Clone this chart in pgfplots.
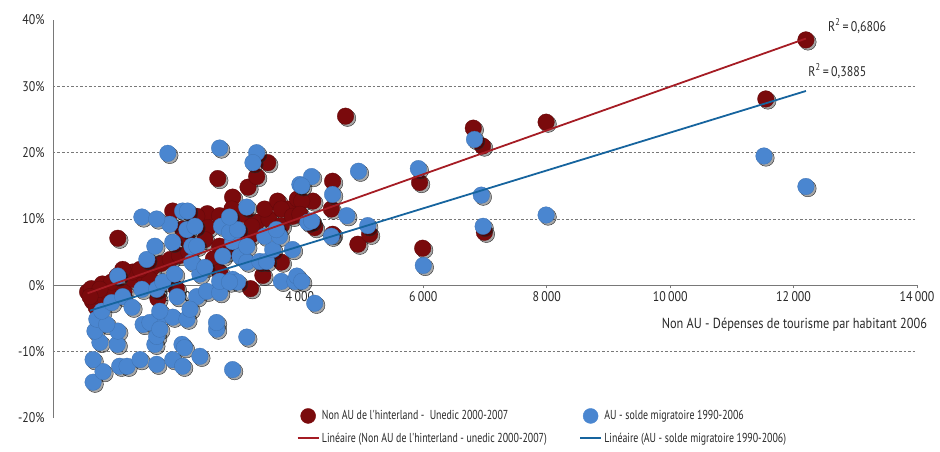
\documentclass[border=0pt]{standalone}
\usepackage{pgfplots}
\pgfplotsset{compat=1.18}
\usepackage{pgfplotstable}
\usepackage{fontspec}
\setmainfont{PT Sans}[FakeStretch=0.85]
\newfontfamily\legfont{PT Sans}[FakeStretch=0.76]
\definecolor{redpt}{RGB}{122,10,12}
\definecolor{bluept}{RGB}{74,134,208}
\definecolor{redln}{RGB}{165,28,36}
\definecolor{blueln}{RGB}{22,100,158}
\definecolor{txt}{RGB}{40,40,40}
\definecolor{axgray}{RGB}{120,120,120}
\pgfplotstableread{
x y
560 -1.0
620 -0.5
640 -2.4
700 -3.3
720 -1.5
850 -2.0
800 0.2
900 -1.2
950 0.5
1150 -1.0
1300 0.9
1450 1.6
1600 2.6
1750 3.3
1900 3.9
2050 4.5
2200 5.0
2600 4.0
2800 5.0
3000 6.5
3200 7.5
3300 9.5
3500 10.0
3700 9.0
3800 11.5
2100 8.5
2300 9.8
2500 10.8
2700 10.5
2900 9.0
3100 10.7
2000 -0.5
3200 -0.5
3400 1.5
1700 -2.0
2700 2.0
760 -0.6
600 -1.7
1040 1.4
1290 2.0
1570 0.9
1050 7.1
1130 2.4
1940 11.2
1410 2.4
2670 16.1
3160 14.8
2910 13.3
2900 11.5
3430 11.5
3640 12.7
3960 13.0
3700 11.5
3880 10.4
2330 10.4
2510 8.7
2460 6.9
2700 5.9
3220 8.9
3700 3.5
2170 6.9
3480 18.5
3300 16.4
4530 15.7
4210 12.7
4510 11.5
4030 12.7
4940 6.2
5130 7.7
4210 9.2
4530 7.7
4000 10.7
4240 8.7
4740 25.5
5940 15.5
5990 5.6
6810 23.7
6960 21.0
6990 8.0
7990 24.6
11550 28.1
12200 37.0
}\reddata
\pgfplotstableread{
x y
650 -14.6
810 -13.0
650 -11.2
1080 -12.2
1200 -12.2
1410 -11.2
1680 -11.9
1940 -11.2
2100 -12.2
760 -8.6
1040 -8.9
1650 -8.9
2090 -8.9
680 -6.9
1050 -6.9
710 -5.1
870 -5.9
1460 -5.9
1700 -5.1
1940 -4.8
1680 -7.7
1570 -5.6
1730 -6.6
1730 -3.9
2170 -5.1
2650 -6.6
2650 -5.6
3140 -7.8
2380 -10.7
2910 -12.7
2130 -9.4
790 -3.9
950 -2.6
1130 -1.7
1280 -3.3
1440 -0.6
1680 -0.6
1780 0.5
1970 1.7
2010 -1.7
2330 -1.7
2220 -3.6
2490 -0.9
2700 -1.1
2700 0.6
2910 0.9
2380 1.7
2990 0.5
2860 0.5
3700 0.6
3920 0.6
1050 1.4
1520 3.9
1650 5.9
1940 6.5
1890 9.2
1440 10.3
1680 10.0
2100 11.2
1860 19.9
2250 3.5
2460 2.7
2250 5.9
2330 5.9
2170 8.4
2300 8.9
2180 11.2
2750 4.4
3070 4.2
3030 4.4
3140 3.5
3350 3.6
3460 3.6
2910 6.6
3140 5.9
3560 5.4
3880 5.4
2730 8.9
2860 8.0
2990 8.4
2860 10.3
3140 11.8
3430 7.4
3670 7.4
3620 8.4
4130 9.5
3950 1.4
2700 20.7
3300 20.0
3240 18.5
4000 15.2
4190 16.4
4530 13.7
4030 15.0
4950 17.2
4760 10.5
4190 9.7
5100 9.0
4510 7.4
4030 0.6
4240 -2.7
5920 17.6
6000 3.0
6830 22.0
6940 13.6
6970 8.9
7990 10.6
11520 19.5
12200 14.9
}\bluedata
\begin{document}
\begin{tikzpicture}[font=\fontsize{13}{15}\selectfont, color=txt]
\begin{axis}[
  at={(53pt,33pt)}, anchor=south west,
  scale only axis, width=864pt, height=398pt,
  xmin=0, xmax=14000, ymin=-20, ymax=40,
  axis y line=left, axis x line=middle,
  axis line style={-, draw=axgray, line width=0.8pt},
  scaled x ticks=false,
  xtick={2000,4000,6000,8000,10000,12000,14000},
  xticklabels={2\,000,4\,000,6\,000,8\,000,10\,000,12\,000,14\,000},
  ytick={-20,-10,0,10,20,30,40},
  yticklabels={-20\%,-10\%,0\%,10\%,20\%,30\%,40\%},
  ytick style={draw=none},
  xtick style={draw=axgray, line width=0.6pt},
  tick align=outside, major tick length=3pt,
  tick label style={font=\fontsize{14}{16}\selectfont, text=txt},
  yticklabel style={xshift=-2pt},
  clip=false,
  legend columns=2,
  legend cell align=left,
  legend style={at={(axis description cs:0.278,0.03)}, anchor=north west,
    draw=none, fill=none, font=\legfont\fontsize{13}{15}\selectfont, text=txt,
    row sep=7pt,
    /tikz/every even column/.append style={column sep=30pt}},
]
\foreach \yy in {30,20,10,-10} {
  \edef\tmp{\noexpand\draw[axgray, line width=0.7pt, dash pattern=on 2.5pt off 2pt] (axis cs:0,\yy) -- (axis cs:14000,\yy);}
  \tmp
}
\addlegendimage{legend image code/.code={\fill[redpt] (10.5pt,0pt) circle (7.5pt);}}
\addlegendentry{Non AU de l'hinterland -\ \ Unedic 2000-2007}
\addlegendimage{legend image code/.code={\fill[bluept] (10.5pt,0pt) circle (7.5pt);}}
\addlegendentry{AU - solde migratoire 1990-2006}
\addlegendimage{legend image code/.code={\draw[redln, line width=2.5pt] (0pt,0pt) -- (21pt,0pt);}}
\addlegendentry{Linéaire (Non AU de l'hinterland - unedic 2000-2007)}
\addlegendimage{legend image code/.code={\draw[blueln, line width=2.5pt] (0pt,0pt) -- (21pt,0pt);}}
\addlegendentry{Linéaire (AU - solde migratoire 1990-2006)}

\addplot[forget plot, only marks, mark=*, mark size=8.3pt,
  mark options={draw=none, fill=black, fill opacity=0.35, xshift=2pt, yshift=-2pt}] table {\reddata};
\addplot[forget plot, only marks, mark=*, mark size=8.3pt,
  mark options={draw=redpt!80!black, fill=redpt, line width=0.3pt}] table {\reddata};
\addplot[forget plot, only marks, mark=*, mark size=8.3pt,
  mark options={draw=none, fill=black, fill opacity=0.35, xshift=2pt, yshift=-2pt}] table {\bluedata};
\addplot[forget plot, only marks, mark=*, mark size=8.3pt,
  mark options={draw=bluept!85!black, fill=bluept, line width=0.3pt}] table {\bluedata};
\end{axis}
\begin{axis}[
  at={(53pt,33pt)}, anchor=south west,
  scale only axis, width=864pt, height=398pt,
  xmin=0, xmax=14000, ymin=-20, ymax=40,
  hide axis, clip=false,
]
\addplot[redln, line width=1.8pt] coordinates {(560,-1.2) (12200,37.2)};
\addplot[blueln, line width=1.8pt] coordinates {(600,-3.8) (12200,29.3)};
\node[anchor=center, font=\fontsize{14}{16}\selectfont] at (axis cs:13030,39.1) {R\textsuperscript{2}\,=\,0,6806};
\node[anchor=center, font=\fontsize{14}{16}\selectfont] at (axis cs:12710,32.3) {R\textsuperscript{2}\,=\,0,3885};
\node[anchor=east, font=\fontsize{14.5}{16}\selectfont] at (axis cs:14220,-6.0) {Non AU - Dépenses de tourisme par habitant 2006};
\end{axis}
\pgfresetboundingbox
\useasboundingbox (0,0) rectangle (940pt,451pt);
\end{tikzpicture}
\end{document}
